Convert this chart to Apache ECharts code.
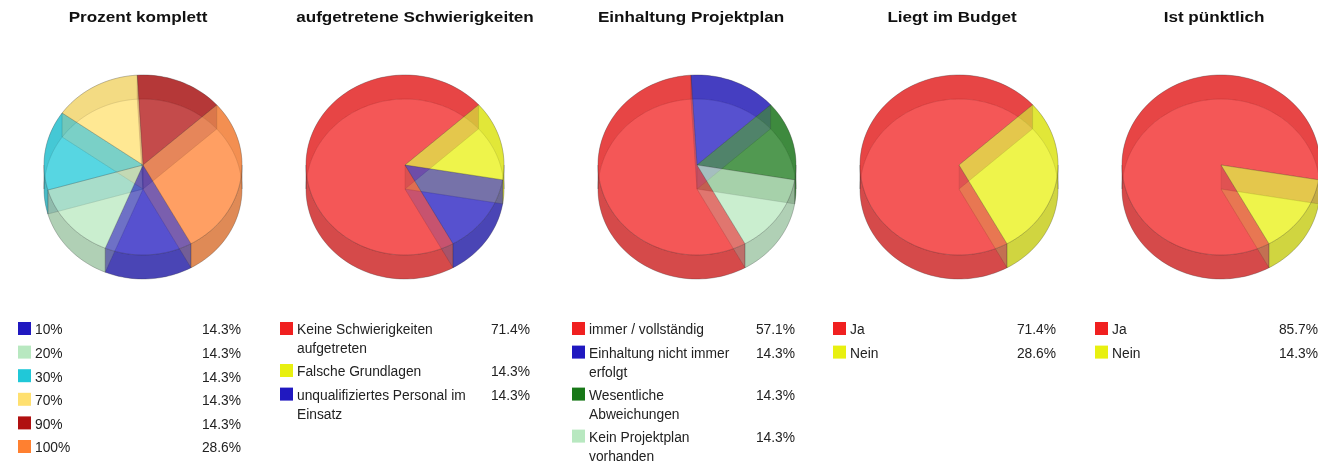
<!DOCTYPE html>
<html>
<head>
<meta charset="utf-8">
<style>
  html, body { margin: 0; padding: 0; background: #fff; }
  #main { width: 1318px; height: 462px; filter: blur(0.45px); }
</style>
<script src="https://cdn.jsdelivr.net/npm/echarts@6/dist/echarts.min.js"></script>
</head>
<body>
<div id="main"></div>
<script>
// titles
var titles = ['Prozent komplett', 'aufgetretene Schwierigkeiten', 'Einhaltung Projektplan', 'Liegt im Budget', 'Ist pünktlich'];

// slices of each pie, in legend order
var labels1 = ['10%', '20%', '30%', '70%', '90%', '100%'];
var values1 = [14.3, 14.3, 14.3, 14.3, 14.3, 28.6];
var colors1 = ['#2018c0', '#b8e8c0', '#20c8d8', '#ffe070', '#b01010', '#ff8030'];

var labels2 = ['Keine Schwierigkeiten\naufgetreten', 'Falsche Grundlagen', 'unqualifiziertes Personal im\nEinsatz'];
var values2 = [71.4, 14.3, 14.3];
var colors2 = ['#f02020', '#e8f010', '#2018c0'];

var labels3 = ['immer / vollständig', 'Einhaltung nicht immer\nerfolgt', 'Wesentliche\nAbweichungen', 'Kein Projektplan\nvorhanden'];
var values3 = [57.1, 14.3, 14.3, 14.3];
var colors3 = ['#f02020', '#2018c0', '#187818', '#b8e8c0'];

var labels4 = ['Ja', 'Nein'];
var values4 = [71.4, 28.6];
var colors4 = ['#f02020', '#e8f010'];

var labels5 = ['Ja', 'Nein'];
var values5 = [85.7, 14.3];
var colors5 = ['#f02020', '#e8f010'];

var pies = [
    { labels: labels1, values: values1, colors: colors1, cx: 143, titleX: 138, swatchX: 18, pctX: 241 },
    { labels: labels2, values: values2, colors: colors2, cx: 405, titleX: 415, swatchX: 280, pctX: 530 },
    { labels: labels3, values: values3, colors: colors3, cx: 697, titleX: 691, swatchX: 572, pctX: 795 },
    { labels: labels4, values: values4, colors: colors4, cx: 959, titleX: 952, swatchX: 833, pctX: 1056 },
    { labels: labels5, values: values5, colors: colors5, cx: 1221, titleX: 1214, swatchX: 1095, pctX: 1318 }
];

// tilted pie geometry, all pies start at the same angle and go clockwise
var CY = 165, RX = 99, RY = 90, DEPTH = 24, START = -61;
var EDGE = 'rgba(50,50,50,0.3)';
var FONT = '13.8px "Liberation Sans", Arial, sans-serif';

function pt(cx, deg, dy) {
    var r = deg * Math.PI / 180;
    return [cx + RX * Math.cos(r), CY + (dy || 0) - RY * Math.sin(r)];
}

function arc(cx, from, to, dy) {
    var out = [];
    var n = Math.max(2, Math.ceil(Math.abs(to - from) / 2));
    for (var i = 0; i <= n; i++) {
        out.push(pt(cx, from + (to - from) * i / n, dy));
    }
    return out;
}

function shade(hex, k) {
    var c = echarts.color.parse(hex);
    return 'rgb(' + Math.round(c[0] * k) + ',' + Math.round(c[1] * k) + ',' + Math.round(c[2] * k) + ')';
}

// start/end angle of every slice
function slices(pie) {
    var total = pie.values.reduce(function (a, b) { return a + b; }, 0);
    var a = START, out = [];
    pie.values.forEach(function (v, i) {
        var b = a - v / total * 360;
        out.push({ from: a, to: b, color: pie.colors[i] });
        a = b;
    });
    return out;
}

function poly(points, fill, opacity, stroke) {
    return {
        type: 'polygon',
        shape: { points: points },
        style: { fill: fill, opacity: opacity, stroke: stroke || null, lineWidth: 1 }
    };
}

// cut the slice where the rim turns from back to front
function wallParts(s) {
    var parts = [], a = s.from;
    var k = Math.floor(a / 180);
    while (a > s.to) {
        var stop = Math.max(k * 180 === a ? (k - 1) * 180 : k * 180, s.to);
        parts.push([a, stop]);
        a = stop;
        k = Math.floor((a - 0.001) / 180);
    }
    return parts;
}

function sectorLayer(pie, dy, alpha) {
    var items = slices(pie);
    return {
        type: 'custom',
        coordinateSystem: 'none',
        silent: true,
        data: pie.values,
        z: dy ? 2 : 4,
        renderItem: function (params) {
            var s = items[params.dataIndex];
            var points = [[pie.cx, CY + dy]].concat(arc(pie.cx, s.from, s.to, dy));
            return poly(points, s.color, alpha, EDGE);
        }
    };
}

function wallLayer(pie) {
    var items = slices(pie);
    return {
        type: 'custom',
        coordinateSystem: 'none',
        silent: true,
        data: pie.values,
        z: 3,
        renderItem: function (params) {
            var s = items[params.dataIndex];
            var kids = wallParts(s).map(function (p) {
                var mid = (p[0] + p[1]) / 2;
                var back = Math.sin(mid * Math.PI / 180) > 0;
                var pts = arc(pie.cx, p[0], p[1], 0).concat(arc(pie.cx, p[1], p[0], DEPTH));
                return poly(pts, shade(s.color, back ? 0.83 : 0.8), 0.62, EDGE);
            });
            // radial faces, very faint
            [s.from, s.to].forEach(function (a) {
                var rim = pt(pie.cx, a, 0), rim2 = pt(pie.cx, a, DEPTH);
                kids.push(poly([[pie.cx, CY], rim, rim2, [pie.cx, CY + DEPTH]], 'rgb(130,130,130)', 0.1, EDGE));
            });
            return { type: 'group', children: kids };
        }
    };
}

var series = [];
var graphics = [];

pies.forEach(function (pie, i) {
    series.push(sectorLayer(pie, DEPTH, 0.45), wallLayer(pie), sectorLayer(pie, 0, 0.55));

    graphics.push({
        type: 'text', x: pie.titleX, y: 18, scaleX: 1.14, silent: true,
        style: {
            text: titles[i], fill: '#111', align: 'center', verticalAlign: 'middle',
            font: 'bold 15px "Liberation Sans", Arial, sans-serif'
        }
    });

    var y = 329;
    pie.labels.forEach(function (label, j) {
        graphics.push({
            type: 'rect', silent: true,
            shape: { x: pie.swatchX, y: y - 7, width: 13, height: 13 },
            style: { fill: pie.colors[j] }
        });
        graphics.push({
            type: 'text', x: pie.swatchX + 17, y: y - 8, silent: true,
            style: {
                text: label, fill: '#222', align: 'left', verticalAlign: 'top', lineHeight: 19,
                font: FONT
            }
        });
        graphics.push({
            type: 'text', x: pie.pctX, y: y + 1.5, silent: true,
            style: {
                text: pie.values[j].toFixed(1) + '%', fill: '#222', align: 'right', verticalAlign: 'middle',
                font: FONT
            }
        });
        y += label.indexOf('\n') >= 0 ? 42 : 23.6;
    });
});

var myChart = echarts.init(document.getElementById('main'));
myChart.setOption({
    animation: false,
    backgroundColor: '#fff',
    graphic: graphics,
    series: series
});
</script>
</body>
</html>
